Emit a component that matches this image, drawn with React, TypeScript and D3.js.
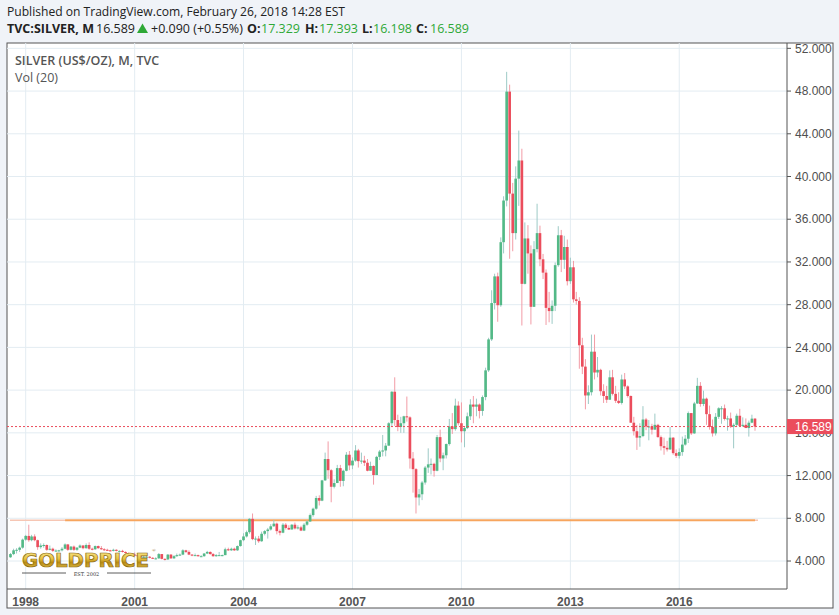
import * as d3 from 'd3'
import React, { useRef, useEffect } from 'react'

// Monthly candles, first one is Aug 1997
const firstMonth = new Date(1997, 7, 1)

const opens = [
  4.35, 4.65, 5.00, 5.05, 5.25, // 1997
  6.00, 6.35, 5.95, 6.30, 5.95, 5.30, 5.45, 5.50, 5.05, 5.15, 4.95, 4.98, // 1998
  5.00, 5.15, 5.55, 5.05, 5.35, 5.05, 5.25, 5.45, 5.20, 5.50, 5.15, 5.10, // 1999
  5.40, 5.20, 5.10, 5.05, 5.00, 4.95, 5.05, 4.95, 4.95, 4.85, 4.75, 4.70, // 2000
  4.60, 4.55, 4.45, 4.35, 4.40, 4.40, 4.30, 4.25, 4.25, 4.65, 4.20, 4.15, // 2001
  4.60, 4.25, 4.45, 4.55, 4.60, 5.00, 4.85, 4.60, 4.55, 4.55, 4.45, 4.45, // 2002
  4.70, 4.85, 4.65, 4.45, 4.55, 4.55, 4.55, 5.10, 5.00, 5.15, 5.00, 5.40, // 2003
  5.95, 6.30, 6.70, 7.95, 6.05, 6.10, 5.85, 6.55, 6.80, 6.95, 7.25, 7.50, // 2004
  6.80, 6.65, 7.40, 7.10, 6.95, 7.40, 7.05, 7.15, 6.85, 7.40, 7.70, 8.30, // 2005
  8.90, 9.90, 9.65, 11.55, 13.55, 12.50, 10.95, 11.30, 12.70, 11.50, 12.45, 13.95, // 2006
  12.95, 13.40, 14.35, 13.35, 13.40, 13.20, 12.45, 12.90, 12.05, 13.75, 14.25, 14.35, // 2007
  14.80, 16.90, 19.85, 17.20, 16.55, 16.90, 17.55, 17.45, 13.60, 12.60, 9.95, 10.25, // 2008
  11.35, 12.75, 13.05, 13.10, 12.45, 15.60, 13.60, 13.90, 14.95, 16.60, 16.35, 18.55, // 2009
  16.90, 16.15, 16.45, 17.55, 18.65, 18.45, 18.65, 18.05, 19.35, 21.85, 24.75, 28.15, // 2010
  30.65, 27.95, 33.85, 37.75, 47.95, 38.40, 34.70, 39.80, 41.50, 29.95, 34.20, 32.80, // 2011
  27.80, 33.20, 34.70, 32.25, 31.00, 27.70, 27.40, 27.90, 31.70, 34.50, 32.20, 33.40, // 2012
  30.20, 31.50, 28.50, 28.35, 24.20, 22.20, 19.50, 19.80, 23.60, 21.65, 21.90, 19.90, // 2013
  19.45, 19.10, 21.20, 19.65, 19.00, 18.80, 21.00, 20.35, 19.45, 16.95, 16.15, 15.55, // 2014
  15.70, 17.25, 16.60, 16.60, 16.30, 16.75, 15.60, 14.75, 14.60, 14.45, 15.55, 14.10, // 2015
  13.85, 14.20, 14.90, 15.45, 17.85, 15.95, 18.75, 20.40, 18.70, 19.20, 17.75, 16.55, // 2016
  15.95, 17.50, 18.30, 18.30, 17.30, 17.35, 16.60, 16.75, 17.60, 16.65, 16.75, 16.45, // 2017
  16.95, 17.329, // 2018
]

const highs = [
  4.75, 5.15, 5.20, 5.35, 6.10,
  6.45, 7.40, 6.45, 6.50, 6.00, 5.65, 5.65, 5.55, 5.45, 5.25, 5.10, 5.05,
  5.30, 5.65, 5.60, 5.40, 5.45, 5.30, 5.55, 5.50, 5.65, 5.75, 5.25, 5.45,
  5.45, 5.40, 5.20, 5.15, 5.05, 5.15, 5.10, 5.00, 5.05, 4.90, 4.80, 4.75,
  4.80, 4.60, 4.50, 4.45, 4.55, 4.45, 4.35, 4.35, 4.75, 4.65, 4.25, 4.65,
  4.65, 4.55, 4.70, 4.70, 5.10, 5.05, 5.00, 4.65, 4.70, 4.60, 4.55, 4.75,
  4.95, 4.90, 4.75, 4.65, 4.85, 4.60, 5.25, 5.25, 5.25, 5.25, 5.45, 6.00,
  6.60, 6.85, 8.00, 8.45, 6.30, 6.35, 6.75, 6.90, 7.10, 7.45, 7.85, 7.60,
  6.95, 7.55, 7.55, 7.35, 7.45, 7.60, 7.35, 7.30, 7.55, 7.80, 8.45, 9.00,
  10.10, 10.15, 11.60, 14.15, 15.20, 12.60, 11.65, 13.00, 13.00, 12.55, 14.20, 14.30,
  13.70, 14.85, 14.50, 14.15, 13.85, 13.55, 13.30, 12.95, 13.85, 14.40, 15.80, 15.05,
  17.00, 19.90, 21.20, 17.70, 17.50, 17.60, 19.40, 17.55, 14.20, 12.70, 10.75, 11.50,
  12.90, 14.55, 13.60, 13.20, 15.80, 16.30, 14.15, 15.00, 17.30, 17.85, 19.20, 18.95,
  18.85, 16.55, 17.90, 19.15, 19.45, 19.20, 18.75, 19.50, 22.10, 24.90, 29.35, 30.90,
  31.00, 34.30, 38.15, 49.80, 48.60, 39.40, 40.95, 44.30, 42.60, 35.70, 35.45, 33.55,
  33.95, 37.45, 35.40, 32.75, 31.30, 29.20, 28.40, 31.95, 35.35, 35.00, 34.45, 34.10,
  32.40, 32.10, 29.20, 28.70, 24.90, 22.90, 20.45, 25.20, 25.20, 23.10, 22.00, 20.55,
  20.40, 21.85, 21.90, 20.40, 19.80, 21.45, 21.60, 20.45, 19.50, 17.50, 16.75, 16.90,
  18.50, 17.40, 17.20, 16.85, 17.80, 16.85, 15.75, 15.55, 15.25, 16.55, 15.60, 14.45,
  14.55, 15.65, 15.80, 18.00, 17.85, 18.90, 21.15, 20.75, 19.95, 19.30, 18.55, 17.25,
  17.85, 18.40, 18.50, 18.65, 17.60, 17.90, 16.90, 17.80, 18.25, 17.45, 17.35, 17.15,
  17.70, 17.393,
]

const lows = [
  4.30, 4.55, 4.70, 4.85, 5.15,
  5.90, 5.80, 5.85, 5.85, 5.05, 5.15, 5.25, 4.95, 5.00, 4.85, 4.85, 4.85,
  4.90, 5.10, 4.95, 5.00, 4.95, 4.95, 5.20, 5.10, 5.15, 5.05, 5.00, 5.05,
  5.15, 5.05, 4.95, 4.95, 4.90, 4.90, 4.90, 4.80, 4.80, 4.70, 4.65, 4.55,
  4.50, 4.40, 4.30, 4.30, 4.30, 4.25, 4.20, 4.15, 4.20, 4.15, 4.05, 4.10,
  4.20, 4.20, 4.40, 4.50, 4.55, 4.75, 4.55, 4.45, 4.50, 4.40, 4.40, 4.40,
  4.65, 4.60, 4.40, 4.40, 4.50, 4.45, 4.55, 4.95, 4.95, 4.95, 4.95, 5.35,
  5.85, 6.20, 6.55, 5.95, 5.50, 5.70, 5.80, 6.40, 6.10, 6.85, 7.20, 6.50,
  6.40, 6.60, 6.95, 6.90, 6.95, 6.95, 6.95, 6.80, 6.80, 7.30, 7.65, 8.15,
  8.80, 9.20, 9.60, 11.50, 11.70, 9.50, 10.80, 11.30, 10.95, 11.00, 12.40, 12.50,
  12.60, 13.30, 12.75, 13.10, 12.90, 12.40, 12.45, 11.15, 12.05, 13.45, 13.80, 13.80,
  14.80, 16.55, 16.65, 16.15, 16.00, 16.00, 17.05, 12.65, 10.40, 8.45, 9.20, 9.70,
  11.15, 12.25, 12.10, 11.90, 12.40, 13.25, 12.50, 13.60, 14.80, 15.90, 16.20, 16.70,
  15.10, 14.65, 16.35, 17.20, 16.90, 17.55, 17.35, 17.60, 19.05, 21.70, 24.60, 27.55,
  26.40, 27.80, 32.80, 37.20, 32.30, 33.00, 34.10, 37.25, 26.05, 29.90, 30.90, 26.15,
  27.80, 32.90, 31.60, 30.40, 26.10, 26.35, 26.20, 27.40, 31.55, 31.05, 31.35, 29.80,
  29.95, 28.20, 28.00, 22.00, 21.50, 18.20, 18.70, 19.50, 21.00, 21.20, 19.50, 18.80,
  18.80, 19.10, 19.50, 18.80, 18.70, 18.65, 20.10, 19.30, 16.95, 15.75, 14.40, 14.70,
  15.60, 16.25, 15.30, 15.85, 16.30, 15.55, 14.35, 13.95, 14.25, 14.40, 13.95, 13.65,
  13.60, 13.85, 14.80, 15.05, 15.80, 15.90, 18.70, 18.45, 18.50, 16.75, 16.30, 15.65,
  15.75, 17.30, 16.85, 17.15, 16.20, 16.45, 14.55, 16.60, 16.65, 16.55, 16.45, 15.65,
  16.90, 16.198,
]

const closes = [
  4.65, 5.00, 5.05, 5.25, 6.00,
  6.35, 5.95, 6.30, 5.95, 5.30, 5.45, 5.50, 5.05, 5.15, 4.95, 4.98, 5.00,
  5.15, 5.55, 5.05, 5.35, 5.05, 5.25, 5.45, 5.20, 5.50, 5.15, 5.10, 5.40,
  5.20, 5.10, 5.05, 5.00, 4.95, 5.05, 4.95, 4.95, 4.85, 4.75, 4.70, 4.60,
  4.55, 4.45, 4.35, 4.40, 4.40, 4.30, 4.25, 4.25, 4.65, 4.20, 4.15, 4.60,
  4.25, 4.45, 4.55, 4.60, 5.00, 4.85, 4.60, 4.55, 4.55, 4.45, 4.45, 4.70,
  4.85, 4.65, 4.45, 4.55, 4.55, 4.55, 5.10, 5.00, 5.15, 5.00, 5.40, 5.95,
  6.30, 6.70, 7.95, 6.05, 6.10, 5.85, 6.55, 6.80, 6.95, 7.25, 7.50, 6.80,
  6.65, 7.40, 7.10, 6.95, 7.40, 7.05, 7.15, 6.85, 7.40, 7.70, 8.30, 8.90,
  9.90, 9.65, 11.55, 13.55, 12.50, 10.95, 11.30, 12.70, 11.50, 12.45, 13.95, 12.95,
  13.40, 14.35, 13.35, 13.40, 13.20, 12.45, 12.90, 12.05, 13.75, 14.25, 14.35, 14.80,
  16.90, 19.85, 17.20, 16.55, 16.90, 17.55, 17.45, 13.60, 12.60, 9.95, 10.25, 11.35,
  12.75, 13.05, 13.10, 12.45, 15.60, 13.60, 13.90, 14.95, 16.60, 16.35, 18.55, 16.90,
  16.15, 16.45, 17.55, 18.65, 18.45, 18.65, 18.05, 19.35, 21.85, 24.75, 28.15, 30.65,
  27.95, 33.85, 37.75, 47.95, 38.40, 34.70, 39.80, 41.50, 29.95, 34.20, 32.80, 27.80,
  33.20, 34.70, 32.25, 31.00, 27.70, 27.40, 27.90, 31.70, 34.50, 32.20, 33.40, 30.20,
  31.50, 28.50, 28.35, 24.20, 22.20, 19.50, 19.80, 23.60, 21.65, 21.90, 19.90, 19.45,
  19.10, 21.20, 19.65, 19.00, 18.80, 21.00, 20.35, 19.45, 16.95, 16.15, 15.55, 15.70,
  17.25, 16.60, 16.60, 16.30, 16.75, 15.60, 14.75, 14.60, 14.45, 15.55, 14.10, 13.85,
  14.20, 14.90, 15.45, 17.85, 15.95, 18.75, 20.40, 18.70, 19.20, 17.75, 16.55, 15.95,
  17.50, 18.30, 18.30, 17.30, 17.35, 16.60, 16.75, 17.60, 16.65, 16.75, 16.45, 16.95,
  17.33, 16.589,
]

const priceTicks = [4, 8, 12, 16, 20, 24, 28, 32, 36, 40, 44, 48, 52]
const yearTicks = [1998, 2001, 2004, 2007, 2010, 2013, 2016]
const lastPrice = 16.589
// horizontal level drawn on the chart
const levelPrice = 7.82
const levelStart = new Date(1999, 1, 1)
const levelEnd = new Date(2018, 1, 1)

// header quote line: text, bold, colour, x
const quoteParts: [string, boolean, string, number][] = [
  ['TVC:SILVER, M', true, '#222', 7],
  ['16.589', false, '#222', 96],
  ['+0.090 (+0.55%)', false, '#222', 151],
  ['O:', true, '#222', 247], ['17.329', false, '#2ea836', 261],
  ['H:', true, '#222', 305], ['17.393', false, '#2ea836', 319],
  ['L:', true, '#222', 362], ['16.198', false, '#2ea836', 373],
  ['C:', true, '#222', 416], ['16.589', false, '#2ea836', 430],
]

const UP = '#53b987'
const DOWN = '#eb4d5c'
const UP_WICK = '#9dcac6'
const DOWN_WICK = '#f29ca6'
const GRID = '#e3ecf2'
const AXIS_TEXT = '#4f4f4f'
const FONT = '"Open Sans", "Liberation Sans", sans-serif'

const SilverChart = () => {
  const ref = useRef<SVGSVGElement | null>(null)

  useEffect(() => {
    const svg = d3.select(ref.current)
    svg.selectAll('*').remove()

    const frame = { left: 7, top: 43, right: 833, bottom: 608 }
    const plot = { left: 7, top: 43, right: 787, bottom: 589 }

    const x = d3.scaleTime()
      .domain([new Date(1998, 0, 1), new Date(2018, 1, 1)])
      .range([25.7, 755])
    const y = d3.scaleLinear().domain([1.38, 52.5]).range([plot.bottom, plot.top])

    const candles = closes.map((c, i) => ({
      date: d3.timeMonth.offset(firstMonth, i),
      o: opens[i], h: highs[i], l: lows[i], c,
    }))

    // page background and frame
    svg.append('rect').attr('width', 839).attr('height', 615).attr('fill', '#f0f3f8')
    svg.append('rect')
      .attr('x', frame.left).attr('y', frame.top)
      .attr('width', frame.right - frame.left).attr('height', frame.bottom - frame.top)
      .attr('fill', '#fff').attr('stroke', '#555').attr('stroke-width', 1)

    const defs = svg.append('defs')
    defs.append('clipPath').attr('id', 'plot-clip')
      .append('rect')
      .attr('x', plot.left).attr('y', plot.top)
      .attr('width', plot.right - plot.left).attr('height', plot.bottom - plot.top)

    const gold = defs.append('linearGradient').attr('id', 'gold')
      .attr('x1', 0).attr('y1', 0).attr('x2', 0).attr('y2', 1)
    gold.append('stop').attr('offset', '0%').attr('stop-color', '#fff6b0')
    gold.append('stop').attr('offset', '45%').attr('stop-color', '#e8c240')
    gold.append('stop').attr('offset', '60%').attr('stop-color', '#b98a12')
    gold.append('stop').attr('offset', '100%').attr('stop-color', '#f1d766')

    const g = svg.append('g').attr('clip-path', 'url(#plot-clip)')

    // grid
    g.selectAll('.vgrid').data(yearTicks).enter().append('line')
      .attr('x1', d => x(new Date(d, 0, 1))).attr('x2', d => x(new Date(d, 0, 1)))
      .attr('y1', plot.top).attr('y2', plot.bottom)
      .attr('stroke', GRID).attr('stroke-width', 1)
    g.selectAll('.hgrid').data(priceTicks).enter().append('line')
      .attr('x1', plot.left).attr('x2', plot.right)
      .attr('y1', d => y(d)).attr('y2', d => y(d))
      .attr('stroke', GRID).attr('stroke-width', 1)

    // horizontal level line
    g.append('line')
      .attr('x1', plot.left + 3).attr('x2', x(levelStart))
      .attr('y1', y(levelPrice)).attr('y2', y(levelPrice))
      .attr('stroke', '#f6c6b4').attr('stroke-width', 1.5)
    g.append('line')
      .attr('x1', x(levelStart)).attr('x2', x(levelEnd))
      .attr('y1', y(levelPrice)).attr('y2', y(levelPrice))
      .attr('stroke', '#f7a55e').attr('stroke-width', 2)
    g.append('line')
      .attr('x1', x(levelEnd)).attr('x2', x(levelEnd) + 3)
      .attr('y1', y(levelPrice)).attr('y2', y(levelPrice))
      .attr('stroke', '#f6c6b4').attr('stroke-width', 1.5)

    // candles
    const step = x(new Date(2010, 1, 1)) - x(new Date(2010, 0, 1))
    const bw = step * 0.86
    const cg = g.selectAll('.candle').data(candles).enter().append('g')
    cg.append('line')
      .attr('x1', d => x(d.date)).attr('x2', d => x(d.date))
      .attr('y1', d => y(d.h)).attr('y2', d => y(d.l))
      .attr('stroke', d => (d.c >= d.o ? UP_WICK : DOWN_WICK)).attr('stroke-width', 1)
    cg.append('rect')
      .attr('x', d => x(d.date) - bw / 2).attr('width', bw)
      .attr('y', d => y(Math.max(d.o, d.c)))
      .attr('height', d => Math.max(1, Math.abs(y(d.o) - y(d.c))))
      .attr('fill', d => (d.c >= d.o ? UP : DOWN))

    // last price line
    g.append('line')
      .attr('x1', plot.left).attr('x2', plot.right)
      .attr('y1', y(lastPrice)).attr('y2', y(lastPrice))
      .attr('stroke', DOWN).attr('stroke-width', 1).attr('stroke-dasharray', '2,2')

    // GOLDPRICE watermark
    const logo = svg.append('g')
    logo.append('text')
      .attr('x', 22).attr('y', 567)
      .attr('textLength', 127).attr('lengthAdjust', 'spacingAndGlyphs')
      .style('font-family', '"DejaVu Sans", sans-serif').style('font-weight', 'bold')
      .style('font-size', '20px')
      .attr('fill', 'url(#gold)').attr('stroke', '#8a6a10').attr('stroke-width', 0.7)
      .text('GOLDPRICE')
    logo.append('text').attr('x', 152).attr('y', 552)
      .style('font-size', '5px').attr('fill', '#8a6a10').text('®')
    logo.append('line').attr('x1', 22).attr('x2', 66).attr('y1', 573).attr('y2', 573)
      .attr('stroke', '#333').attr('stroke-width', 0.8)
    logo.append('line').attr('x1', 107).attr('x2', 151).attr('y1', 573).attr('y2', 573)
      .attr('stroke', '#333').attr('stroke-width', 0.8)
    logo.append('text').attr('x', 86.5).attr('y', 575.5).attr('text-anchor', 'middle')
      .style('font-family', '"DejaVu Serif", serif').style('font-size', '5px')
      .attr('fill', '#333').text('EST. 2002')

    // axis lines
    svg.append('line').attr('x1', plot.right).attr('x2', plot.right)
      .attr('y1', plot.top).attr('y2', plot.bottom).attr('stroke', '#555')
    svg.append('line').attr('x1', plot.left).attr('x2', plot.right)
      .attr('y1', plot.bottom).attr('y2', plot.bottom).attr('stroke', '#555')

    // price axis
    const ya = svg.append('g')
    ya.selectAll('line').data(priceTicks).enter().append('line')
      .attr('x1', plot.right).attr('x2', plot.right + 4)
      .attr('y1', d => y(d)).attr('y2', d => y(d)).attr('stroke', '#555')
    ya.selectAll('text').data(priceTicks).enter().append('text')
      .attr('x', plot.right + 8).attr('y', d => y(d)).attr('dy', '0.35em')
      .style('font-family', '"Liberation Sans", Arial, sans-serif').style('font-size', '12px')
      .attr('fill', AXIS_TEXT)
      .text(d => d3.format('.3f')(d))

    // last price label
    svg.append('rect')
      .attr('x', plot.right).attr('y', y(lastPrice) - 7.5)
      .attr('width', frame.right - plot.right).attr('height', 15)
      .attr('fill', DOWN)
    svg.append('text')
      .attr('x', plot.right + 8).attr('y', y(lastPrice)).attr('dy', '0.35em')
      .style('font-family', '"Liberation Sans", Arial, sans-serif').style('font-size', '12px')
      .attr('fill', '#fff')
      .text(d3.format('.3f')(lastPrice))

    // time axis
    svg.selectAll('.year').data(yearTicks).enter().append('text')
      .attr('x', d => x(new Date(d, 0, 1))).attr('y', 602).attr('dy', '0.35em')
      .attr('text-anchor', 'middle')
      .style('font-family', '"Liberation Sans", Arial, sans-serif').style('font-size', '12px')
      .style('font-weight', 'bold').attr('fill', '#555')
      .text(d => d)

    // legend in the pane
    svg.append('text').attr('x', 15).attr('y', 65)
      .style('font-family', FONT).style('font-size', '12.5px').style('font-weight', 600)
      .attr('fill', '#555').text('SILVER (US$/OZ), M, TVC')
    svg.append('text').attr('x', 15).attr('y', 82)
      .style('font-family', FONT).style('font-size', '12.5px')
      .attr('fill', '#555').text('Vol (20)')

    // header
    svg.append('text').attr('x', 7).attr('y', 16)
      .attr('textLength', 338).attr('lengthAdjust', 'spacingAndGlyphs')
      .style('font-family', FONT).style('font-size', '13px')
      .attr('fill', '#222').text('Published on TradingView.com, February 26, 2018 14:28 EST')

    svg.selectAll('.quote').data(quoteParts).enter().append('text')
      .attr('x', d => d[3]).attr('y', 33)
      .style('font-family', FONT).style('font-size', '12.5px')
      .style('font-weight', d => (d[1] ? 'bold' : 'normal'))
      .attr('fill', d => d[2])
      .text(d => d[0])
    // green up triangle
    svg.append('path')
      .attr('d', 'M137,33 L142.5,23.5 L148,33 Z')
      .attr('fill', '#2ea836')
  }, [])

  return (
    <svg ref={ref} width={839} height={615}
      style={{ position: 'absolute', left: 0, top: 0, display: 'block' }} />
  )
}

export default function App() {
  return <SilverChart />
}
